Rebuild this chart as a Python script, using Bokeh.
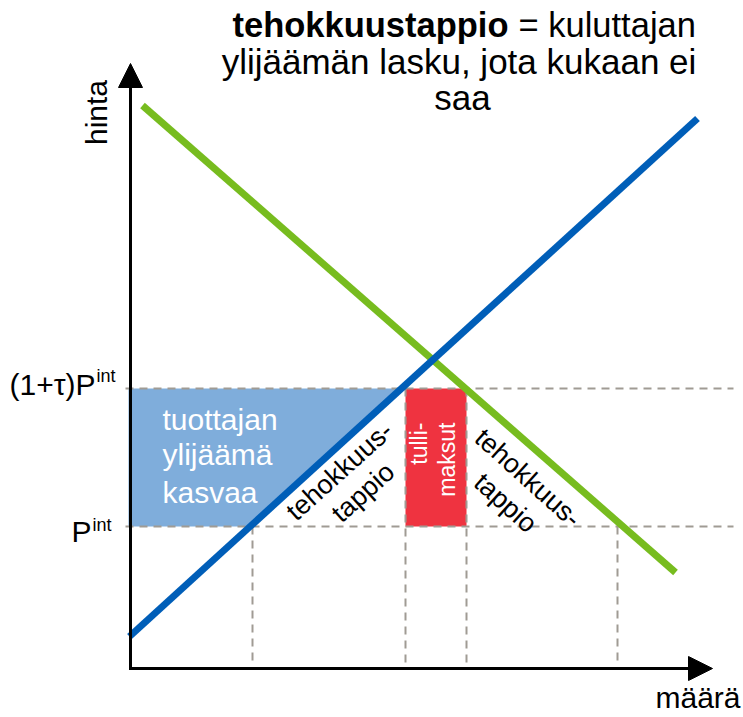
from bokeh.plotting import figure
from bokeh.models import Arrow, NormalHead, Range1d
from bokeh.core.properties import value
from bokeh.embed import file_html
from bokeh.resources import INLINE
import math

# ---- data (abstract quantity / price units) ----
supply_q = [-0.02, 11.34]
supply_p = [0.64, 11.0]
demand_q = [0.24, 10.9]
demand_p = [11.26, 1.92]
p_int = 2.84          # world price P^int
p_tariff = 5.6        # (1+tau) P^int
q_s_int = 2.44        # supply at P^int
q_s_tar = 5.5         # supply at (1+tau)P^int
q_d_tar = 6.72        # demand at (1+tau)P^int
q_d_int = 9.74        # demand at P^int
q_axis_end = 11.64
p_axis_end = 12.1

title_bold = "tehokkuustappio"
title_rest = "= kuluttajan"
title_line2 = "ylijäämän lasku, jota kukaan ei"
title_line3 = "saa"


def q_on_supply(price):
    (q0, q1), (p0, p1) = supply_q, supply_p
    return q0 + (price - p0) * (q1 - q0) / (p1 - p0)


FONT = value("Liberation Sans")

p = figure(width=743, height=717, x_range=Range1d(-2.6, 12.26), y_range=Range1d(-0.98, 13.36),
           output_backend="svg", toolbar_location=None, min_border=0,
           x_axis_type=None, y_axis_type=None)
p.grid.visible = False
p.outline_line_color = None

# producer surplus gain (blue)
blue_q = [-0.04, q_on_supply(p_tariff), q_on_supply(p_int), -0.04]
blue_p = [p_tariff, p_tariff, p_int, p_int]
p.patch(blue_q, blue_p, fill_color="#7FADDB", line_color=None)

# tariff revenue (red)
p.quad(left=[q_s_tar], right=[q_d_tar], bottom=[p_int], top=[p_tariff],
       fill_color="#EF3340", line_color=None)

# dashed guides
dash_col = "#A09B94"
p.segment(x0=[-0.1, -0.1], y0=[p_int, p_tariff], x1=[12.06, 12.06], y1=[p_int, p_tariff],
          line_color=dash_col, line_width=2, line_dash="8 6")
p.segment(x0=[q_s_int, q_s_tar, q_d_tar, q_d_int], y0=[p_int, p_tariff, p_tariff, p_int],
          x1=[q_s_int, q_s_tar, q_d_tar, q_d_int], y1=[0.12] * 4,
          line_color=dash_col, line_width=2, line_dash="8 6")

# axes
head = dict(size=24, fill_color="black", line_color="black", line_width=1)
p.add_layout(Arrow(end=NormalHead(**head), x_start=0, y_start=-0.03, x_end=0, y_end=p_axis_end,
                   line_width=3, line_color="black"))
p.add_layout(Arrow(end=NormalHead(**head), x_start=-0.03, y_start=0, x_end=q_axis_end, y_end=0,
                   line_width=3, line_color="black"))

# supply & demand
p.line(demand_q, demand_p, line_color="#77BC1F", line_width=7)
p.line(supply_q, supply_p, line_color="#005EB8", line_width=7)

# ---- texts ----
# title
p.text(x=[7.56], y=[12.87], text=[title_bold], text_font=FONT, text_font_size="34.5px",
       text_font_style="bold", text_align="right", text_baseline="alphabetic", text_color="black")
p.text(x=[7.76], y=[12.87], text=[title_rest], text_font=FONT, text_font_size="34.5px",
       text_align="left", text_baseline="alphabetic", text_color="black")
p.text(x=[6.57, 6.64], y=[12.15, 11.43], text=[title_line2, title_line3], text_font=FONT,
       text_font_size="35px", text_align="center", text_baseline="alphabetic", text_color="black")

# axis labels
p.text(x=[-0.69], y=[11.12], text=["hinta"], text_font=FONT, text_font_size="30px",
       angle=math.pi / 2, text_align="center", text_baseline="middle", text_color="black")
p.text(x=[12.2], y=[-0.58], text=["määrä"], text_font=FONT, text_font_size="30px",
       text_align="right", text_baseline="alphabetic", text_color="black")

# price labels
p.text(x=[-0.7, -0.78], y=[5.68, 2.74], text=["(1+τ)P", "P"], text_font=FONT, text_font_size="30px",
       text_align="right", text_baseline="alphabetic", text_color="black")
p.text(x=[-0.68, -0.76], y=[5.85, 2.87], text=["int", "int"], text_font=FONT, text_font_size="18px",
       text_align="left", text_baseline="alphabetic", text_color="black")

# producer surplus text
p.text(x=[0.64] * 3, y=[4.98, 4.28, 3.52], text=["tuottajan", "ylijäämä", "kasvaa"], text_font=FONT,
       text_font_size="30px", text_align="left", text_baseline="alphabetic", text_color="white")

# tariff text
p.text(x=[5.76, 6.32], y=[4.92, 4.92], text=["tulli-", "maksut"], text_font=FONT, text_font_size="23px",
       angle=math.pi / 2, text_align="right", text_baseline="alphabetic", text_color="white")

# deadweight losses
ang = math.radians(42)
p.text(x=[4.18, 4.65], y=[3.95, 3.52], text=["tehokkuus-", "tappio"], text_font=FONT,
       text_font_size="27px", angle=ang, text_align="center", text_baseline="middle", text_color="black")
p.text(x=[7.95, 7.5], y=[3.81, 3.31], text=["tehokkuus-", "tappio"], text_font=FONT,
       text_font_size="27px", angle=-ang, text_align="center", text_baseline="middle", text_color="black")

open("out.html", "w").write(file_html(p, INLINE))
